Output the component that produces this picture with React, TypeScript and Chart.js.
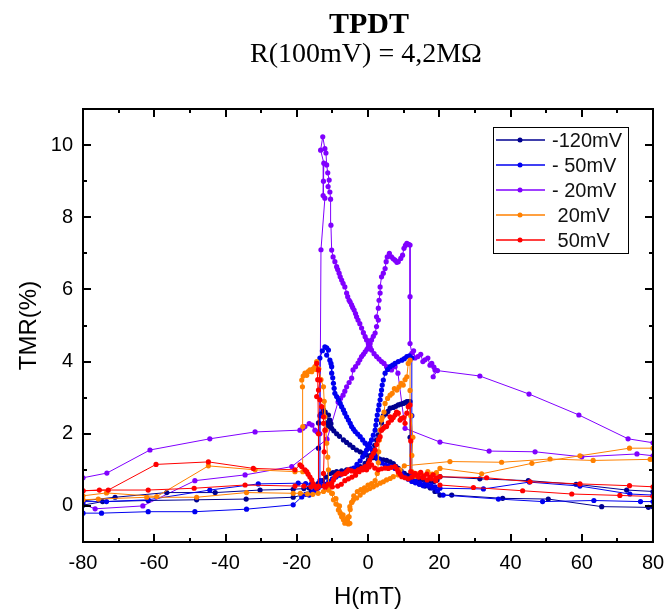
import React, { useEffect, useRef } from 'react';
import { Chart, registerables } from 'chart.js';

Chart.register(...registerables);

type P = [number, number];

// ---- -120mV (two field sweeps) ----
const n120SweepA: P[] = [
  [-80, 0.02], [-74.5, 0.12], [-61.7, 0.15], [-48.1, 0.17], [-34.2, 0.19], [-21, 0.24], [-18.5, 0.3], [-17, 0.33], [-16, 0.38],
  [-15, 0.42], [-14.4, 0.5], [-13.9, 0.62], [-13.9, 1.6], [-13.9, 2.3], [-13.2, 2.55], [-12.5, 2.66], [-12, 2.6], [-11.1, 2.52],
  [-11.6, 2.3], [-11.2, 2.2], [-10.7, 2.38], [-10.4, 2.28], [-10.2, 2.15], [-9.6, 2.08], [-8.8, 2.0], [-8.0, 1.93], [-6.9, 1.83],
  [-6.0, 1.76], [-5.1, 1.69], [-4.2, 1.62], [-3.2, 1.55], [-2.2, 1.5], [-1.3, 1.46], [-0.4, 1.41], [0.6, 1.37], [1.5, 1.34],
  [2.4, 1.32], [3.3, 1.3], [4.3, 1.28], [5.2, 1.26], [6.2, 1.22], [7.1, 1.17], [7.8, 1.1], [8.5, 1.04], [9.3, 0.97], [10.2, 0.9],
  [11.2, 0.85], [12.3, 0.82], [13.2, 0.78], [14.2, 0.76], [15.2, 0.73], [16.3, 0.7], [17.4, 0.7], [18.5, 0.68], [19.4, 0.72],
  [20.2, 0.81], [31.4, 0.75], [45, 0.7], [58.4, 0.6], [72.6, 0.44], [80, 0.4],
];
const n120SweepB: P[] = [
  [80, -0.02], [78.7, -0.04], [65.6, -0.02], [50.6, 0.19], [37.8, 0.21], [23.5, 0.3], [20.2, 0.3], [18.8, 0.4], [17.5, 0.5],
  [16, 0.55], [14.6, 0.6], [13.2, 0.68], [12.2, 0.75], [11.8, 0.85], [11.8, 1.9], [11.8, 2.89], [11.3, 2.89], [10.9, 2.89],
  [10.4, 2.86], [9.9, 2.84], [9.2, 2.82], [8.5, 2.8], [7.8, 2.76], [7.1, 2.73], [6.2, 2.71], [5.6, 2.62], [5.0, 2.55], [4.3, 2.5],
  [3.8, 2.3], [3.4, 2.1], [2.9, 1.97], [2.4, 1.83], [1.9, 1.68], [1.5, 1.55], [0.8, 1.4], [0.1, 1.27], [-0.8, 1.18], [-2.2, 1.09],
  [-3.6, 1.05], [-4.8, 1.02], [-6, 1.0], [-7.4, 0.97], [-8.8, 0.95], [-9.8, 0.92], [-10.7, 0.9], [-11.8, 0.8], [-12.8, 0.7],
  [-14, 0.62], [-15.2, 0.55], [-16.5, 0.5], [-18, 0.48], [-21, 0.46], [-30.3, 0.44], [-42.9, 0.37], [-56.5, 0.37], [-71, 0.24],
  [-80, 0.14],
];

// ---- -50mV ----
const n50SweepA: P[] = [
  [-80, -0.2], [-74.8, -0.2], [-61.7, -0.16], [-48.6, -0.16], [-34.1, -0.09], [-21, 0.03], [-18.6, 0.25], [-17.5, 0.32],
  [-16.5, 0.3], [-15.5, 0.38], [-14.6, 0.42], [-14, 0.5], [-13.5, 0.7], [-13.5, 2.5], [-13.5, 4.1], [-12.8, 4.3], [-12.1, 4.41],
  [-11.6, 4.38], [-11.1, 4.32], [-11.6, 4.18], [-10.7, 4.04], [-10.4, 3.95], [-10.2, 3.86], [-10.2, 3.68], [-9.9, 3.55],
  [-9.7, 3.4], [-9.5, 3.26], [-9.3, 3.12], [-8.8, 3.03], [-8.3, 2.94], [-7.8, 2.84], [-7.4, 2.75], [-6.9, 2.66], [-6.5, 2.57],
  [-6.0, 2.47], [-5.5, 2.38], [-5.0, 2.29], [-4.6, 2.2], [-4.1, 2.13], [-3.6, 2.06], [-2.9, 1.99], [-2.2, 1.92], [-1.5, 1.83],
  [-0.8, 1.74], [-0.1, 1.67], [0.6, 1.6], [1.3, 1.52], [2.0, 1.46], [2.5, 1.35], [2.9, 1.26], [3.8, 1.19], [4.8, 1.14],
  [5.7, 1.11], [6.6, 1.09], [7.6, 1.04], [8.5, 1.0], [9.5, 0.9], [10.4, 0.81], [11.3, 0.74], [12.3, 0.68], [13.3, 0.64],
  [14.4, 0.6], [15.5, 0.56], [16.6, 0.6], [17.7, 0.57], [18.8, 0.53], [20.2, 0.49], [32.4, 0.47], [45.3, 0.66], [59.5, 0.55],
  [73.5, 0.33], [80, 0.3],
];
const n50SweepB: P[] = [
  [80, 0.12], [76.5, 0.12], [63.4, 0.15], [49, 0.12], [36.6, 0.19], [21.1, 0.3], [19.5, 0.42], [18.2, 0.5], [17, 0.55],
  [15.8, 0.6], [14.6, 0.64], [13.4, 0.7], [12.3, 0.85], [12.3, 2.5], [12.3, 4.1], [11.6, 4.16], [10.9, 4.14], [10.2, 4.08],
  [9.5, 4.04], [8.5, 4.0], [7.6, 3.95], [6.9, 3.9], [6.2, 3.86], [5.5, 3.78], [4.8, 3.68], [4.3, 3.49], [4.0, 3.35], [3.8, 3.21],
  [3.6, 3.08], [3.4, 2.94], [3.1, 2.8], [2.9, 2.66], [2.6, 2.52], [2.4, 2.38], [2.2, 2.24], [2.0, 2.1], [1.5, 1.96], [1.0, 1.83],
  [0.5, 1.73], [0.1, 1.64], [-0.4, 1.55], [-0.8, 1.46], [-1.5, 1.36], [-2.2, 1.25], [-3.1, 1.15], [-4.0, 1.05], [-5.0, 1.0],
  [-6, 0.95], [-7, 0.9], [-8, 0.85], [-9, 0.8], [-10, 0.75], [-11, 0.68], [-12, 0.6], [-13, 0.56], [-14, 0.55], [-15, 0.57],
  [-16, 0.6], [-17.5, 0.62], [-19.6, 0.63], [-30.8, 0.61], [-44.4, 0.44], [-61.7, 0.17], [-73.4, 0.12], [-80, 0.12],
];

// ---- -20mV ----
const n20SweepA: P[] = [
  [-80, 0.05], [-76.6, -0.08], [-63.2, 0.0], [-48.6, 0.7], [-34.5, 0.86], [-21.4, 1.09], [-11.5, 1.85], [-8.4, 2.88],
  [-7.7, 2.98], [-7.0, 3.07], [-6.5, 3.18], [-6.0, 3.3], [-5.3, 3.42], [-4.6, 3.54], [-4.2, 3.77], [-3.5, 3.86], [-2.8, 3.96],
  [-2.3, 4.05], [-1.8, 4.14], [-1.3, 4.2], [-0.8, 4.27], [-0.3, 4.34], [0.1, 4.41], [0.6, 4.5], [1.0, 4.6], [1.5, 4.7],
  [2.0, 4.79], [2.4, 4.97], [2.9, 5.15], [2.4, 5.24], [2.9, 5.48], [3.1, 5.7], [3.4, 5.9], [3.4, 6.07], [3.8, 6.35], [4.3, 6.45],
  [4.8, 6.58], [5.1, 6.77], [5.4, 6.9], [6.0, 7.0], [6.6, 6.9], [7.1, 6.85], [7.6, 6.81], [8.1, 6.75], [8.5, 6.77], [9.2, 6.86],
  [9.7, 6.95], [10.1, 7.14], [10.5, 7.22], [10.9, 7.28], [11.4, 7.25], [11.8, 7.23], [11.8, 5.8], [11.8, 4.5], [12.3, 4.23],
  [12.8, 4.3], [13.2, 4.1], [14, 4.14], [14.8, 4.2], [15.4, 4.0], [16, 4.05], [16.8, 4.1], [17.4, 3.9], [17.9, 3.95],
  [18.5, 3.85], [18.8, 3.77], [18.3, 3.58], [19.5, 3.75], [31.4, 3.6], [45.2, 3.1], [59.2, 2.52], [73, 1.86], [80, 1.75],
];
const n20SweepB: P[] = [
  [80, 1.39], [75.5, 1.44], [60, 1.36], [46.9, 1.5], [34, 1.52], [20.2, 1.77], [10.4, 2.15], [8.4, 3.68], [7.6, 3.86],
  [6.6, 3.77], [5.9, 3.8], [5.2, 3.86], [4.5, 3.95], [3.8, 4.0], [3.1, 4.07], [2.4, 4.14], [1.7, 4.22], [1.0, 4.32], [0.6, 4.4],
  [0.1, 4.5], [-0.4, 4.6], [-0.8, 4.69], [-1.3, 4.8], [-1.8, 4.93], [-2.3, 5.05], [-2.8, 5.15], [-3.2, 5.24], [-3.5, 5.33],
  [-3.9, 5.43], [-4.3, 5.5], [-4.6, 5.57], [-5.0, 5.65], [-5.3, 5.7], [-5.7, 5.8], [-6.0, 5.9], [-6.5, 6.07], [-7.0, 6.17],
  [-7.4, 6.26], [-7.8, 6.35], [-8.1, 6.45], [-8.5, 6.55], [-8.8, 6.63], [-9.3, 6.77], [-9.8, 6.9], [-10.2, 7.09], [-10.4, 7.78],
  [-10.5, 8.5], [-10.7, 8.7], [-11.2, 8.85], [-10.9, 9.03], [-11.3, 9.23], [-11.6, 9.45], [-11.8, 9.78], [-12.1, 9.9],
  [-12.7, 10.23], [-13.3, 9.86], [-12.4, 9.5], [-12.5, 9.0], [-12.6, 8.6], [-12.1, 8.53], [-13.2, 7.1], [-13.5, 2.0],
  [-14.3, 2.05], [-14.9, 2.1], [-15.7, 2.24], [-16.5, 2.28], [-17.7, 2.2], [-18.3, 2.15], [-19.1, 2.1], [-31.7, 2.05],
  [-44.4, 1.86], [-61.2, 1.55], [-73.3, 0.91], [-80, 0.78],
];

// ---- 20mV ----
const p20SweepA: P[] = [
  [-80, 0.28], [-73.4, 0.36], [-59.3, 0.26], [-44.8, 1.11], [-31.7, 1.0], [-20.5, 0.95], [-18.3, 0.95], [-18.3, 2.2],
  [-18.4, 3.3], [-18.6, 3.49], [-18.2, 3.6], [-17.7, 3.68], [-17.2, 3.62], [-16.8, 3.72], [-16.3, 3.77], [-15.8, 3.72],
  [-15.4, 3.8], [-14.9, 3.86], [-14.6, 3.78], [-14.4, 4.0], [-13.8, 3.8], [-13.2, 3.5], [-12.5, 3.3], [-12.3, 2.9],
  [-12.1, 2.47], [-11.8, 2.1], [-11.6, 1.74], [-11.3, 1.35], [-11.1, 1.0], [-11.1, 0.44], [-10.7, 0.53], [-10.2, 0.35],
  [-9.7, 0.17], [-9.0, 0.05], [-8.3, -0.11], [-7.8, -0.2], [-7.4, -0.3], [-6.9, -0.38], [-6.5, -0.48], [-6.0, -0.43],
  [-5.5, -0.5], [-5.1, -0.48], [-5.3, -0.3], [-5.1, -0.02], [-4.6, 0.1], [-4.1, 0.17], [-3.2, 0.22], [-2.2, 0.3], [-1.3, 0.38],
  [-0.4, 0.44], [0.5, 0.48], [1.5, 0.53], [2.4, 0.58], [3.4, 0.63], [4.3, 0.67], [5.2, 0.72], [6.2, 0.76], [7.1, 0.81],
  [8.5, 0.86], [9.0, 1.0], [10.2, 1.11], [23, 1.23], [37.5, 1.21], [51.1, 1.3], [63.2, 1.26], [79.2, 1.29], [80, 1.29],
];
const p20SweepB: P[] = [
  [80, 1.6], [73.4, 1.6], [59.5, 1.39], [46, 1.18], [31.9, 0.89], [20.2, 1.04], [19.2, 0.92], [18, 0.88], [16.8, 0.95],
  [15.6, 0.85], [14.4, 0.9], [13.3, 0.82], [12.3, 0.95], [12.3, 1.4], [12.6, 1.9], [12.0, 2.5], [11.8, 3.2], [11.8, 4.04],
  [11.3, 3.95], [10.9, 3.58], [10.4, 3.5], [9.9, 3.35], [9.3, 3.4], [8.7, 3.3], [8.1, 3.21], [7.4, 3.25], [6.8, 3.12],
  [6.2, 3.07], [5.5, 2.98], [4.8, 2.84], [4.5, 2.6], [4.0, 2.45], [3.8, 2.38], [3.4, 2.1], [3.2, 1.83], [3.0, 1.5], [2.9, 1.2],
  [2.6, 0.9], [2.0, 0.7], [1.0, 0.62], [0.0, 0.58], [-1.0, 0.5], [-2.0, 0.45], [-3.0, 0.4], [-4.0, 0.28], [-4.5, 0.1],
  [-5.0, -0.1], [-5.5, -0.3], [-6.0, -0.35], [-7.0, -0.25], [-8.0, 0.0], [-9.0, 0.2], [-10.0, 0.35], [-11.0, 0.45],
  [-12.5, 0.4], [-14, 0.35], [-15.5, 0.32], [-17, 0.33], [-19, 0.35], [-21, 0.35], [-34.1, 0.37], [-48.1, 0.24],
  [-62.1, 0.24], [-75.7, 0.19], [-80, 0.17],
];

// ---- 50mV ----
const p50SweepA: P[] = [
  [-80, 0.42], [-72.9, 0.44], [-59.5, 1.15], [-44.8, 1.22], [-32.2, 1.04], [-20.5, 1.0], [-19.1, 1.14], [-18.6, 1.09],
  [-17.7, 1.0], [-17.2, 0.95], [-16.8, 0.88], [-16.3, 0.8], [-15.8, 0.72], [-15.4, 0.62], [-14.9, 0.55], [-14.4, 0.49],
  [-13.9, 0.55], [-13.9, 2.0], [-14.1, 3.5], [-14.4, 3.95], [-13.9, 3.77], [-13.5, 3.49], [-13.9, 3.21], [-14.4, 3.03],
  [-13.5, 2.94], [-13.0, 2.75], [-12.5, 2.47], [-12.5, 2.29], [-12.1, 2.1], [-12.3, 1.5], [-12.5, 0.9], [-12.3, 0.55],
  [-11.2, 0.6], [-10.2, 0.63], [-9.7, 0.72], [-9.3, 0.81], [-8.8, 0.86], [-8.3, 0.9], [-7.4, 0.88], [-6.5, 0.9], [-6.0, 0.95],
  [-5.5, 1.0], [-4.6, 0.97], [-3.6, 0.95], [-2.7, 1.0], [-1.8, 1.04], [-1.1, 1.02], [-0.4, 1.0], [0.3, 1.08], [1.0, 1.14],
  [1.9, 1.05], [2.9, 1.0], [3.8, 1.03], [4.8, 1.05], [5.7, 1.04], [6.6, 1.07], [7.6, 1.09], [8.1, 1.02], [8.5, 0.95],
  [9.0, 0.88], [9.5, 0.81], [10.4, 0.78], [11.3, 0.75], [12.3, 0.8], [13.2, 0.9], [14.0, 0.85], [14.8, 0.93], [15.6, 0.82],
  [16.5, 0.88], [17.4, 0.8], [18.3, 0.86], [19.2, 0.78], [20.2, 0.81], [33.3, 0.78], [45.5, 0.67], [59.5, 0.61],
  [73.4, 0.56], [80, 0.53],
];
const p50SweepB: P[] = [
  [80, 0.26], [70.7, 0.29], [57.2, 0.33], [43.4, 0.42], [29.6, 0.51], [20.2, 0.58], [19, 0.7], [17.8, 0.75], [16.6, 0.72],
  [15.4, 0.78], [14.2, 0.8], [13, 0.85], [12, 0.95], [12, 1.8], [11.8, 2.8], [11.3, 2.75], [10.9, 2.57], [10.4, 2.29],
  [10, 2.45], [9.5, 2.43], [9.0, 2.38], [8.5, 2.57], [8.0, 2.6], [7.6, 2.52], [7.1, 2.45], [6.6, 2.38], [6.2, 2.47], [5.7, 2.3],
  [5.2, 2.2], [4.8, 2.2], [4.3, 2.15], [3.8, 2.1], [3.4, 1.92], [2.9, 1.83], [2.4, 1.7], [2.0, 1.55], [1.5, 1.46], [1.0, 1.37],
  [0.5, 1.27], [0.1, 1.18], [-0.8, 1.09], [-1.5, 1.0], [-2.5, 0.95], [-3.5, 0.85], [-4.5, 0.8], [-5.5, 0.75], [-6.5, 0.7],
  [-7.5, 0.6], [-8.5, 0.55], [-10, 0.53], [-12, 0.52], [-14, 0.53], [-16, 0.53], [-18, 0.55], [-20.5, 0.55], [-34.5, 0.58],
  [-48.8, 0.49], [-61.7, 0.44], [-75.4, 0.44], [-80, 0.42],
];

const seriesLabels = ['-120mV', '- 50mV', '- 20mV', ' 20mV', ' 50mV'];
const seriesColors = ['#000090', '#0000F0', '#8000FF', '#FF8000', '#FF0000'];
const seriesSweeps: P[][][] = [
  [n120SweepA, n120SweepB],
  [n50SweepA, n50SweepB],
  [n20SweepA, n20SweepB],
  [p20SweepA, p20SweepB],
  [p50SweepA, p50SweepB],
];
const drawOrder = [3, 2, 4, 1, 0];

const xTickValues = [-80, -60, -40, -20, 0, 20, 40, 60, 80];
const xMinorValues = [-70, -50, -30, -10, 10, 30, 50, 70];
const yTickValues = [0, 2, 4, 6, 8, 10];
const yMinorValues = [-1, 1, 3, 5, 7, 9, 11];

const titleText = 'TPDT';
const subtitleText = 'R(100mV) = 4,2MΩ';

function toPoints(sweeps: P[][]) {
  const out: { x: number; y: number | null }[] = [];
  sweeps.forEach((s, i) => {
    if (i > 0) out.push({ x: s[0][0], y: null });
    s.forEach(([x, y]) => out.push({ x, y }));
  });
  return out;
}

const decorPlugin = {
  id: 'decor',
  afterDatasetsDraw(chart: any) {
    const { ctx, chartArea, scales } = chart;
    const { left, right, top, bottom } = chartArea;
    const xs = scales.x;
    const ys = scales.y;
    ctx.save();
    ctx.strokeStyle = '#000';
    ctx.lineWidth = 2;
    ctx.strokeRect(left, top, right - left, bottom - top);
    const seg = (x1: number, y1: number, x2: number, y2: number) => {
      ctx.beginPath();
      ctx.moveTo(x1, y1);
      ctx.lineTo(x2, y2);
      ctx.stroke();
    };
    ctx.lineWidth = 2;
    xTickValues.forEach((v) => {
      const p = Math.round(xs.getPixelForValue(v));
      seg(p, bottom, p, bottom - 8);
      seg(p, top, p, top + 8);
    });
    xMinorValues.forEach((v) => {
      const p = Math.round(xs.getPixelForValue(v));
      seg(p, bottom, p, bottom - 4);
      seg(p, top, p, top + 4);
    });
    yTickValues.forEach((v) => {
      const p = Math.round(ys.getPixelForValue(v));
      seg(left, p, left + 8, p);
      seg(right, p, right - 8, p);
    });
    yMinorValues.forEach((v) => {
      const p = Math.round(ys.getPixelForValue(v));
      seg(left, p, left + 4, p);
      seg(right, p, right - 4, p);
    });
    ctx.restore();
  },
  afterDraw(chart: any) {
    const { ctx, chartArea } = chart;
    ctx.save();
    // titles
    ctx.fillStyle = '#000';
    ctx.textAlign = 'center';
    ctx.textBaseline = 'alphabetic';
    ctx.font = 'bold 30px "Liberation Serif", serif';
    ctx.fillText(titleText, 369, 33);
    ctx.font = '28px "Liberation Serif", serif';
    ctx.fillText(subtitleText, 366, 62);
    // legend
    const bx = chartArea.right - 160;
    const by = chartArea.top + 18;
    const bw = 135;
    const bh = 126;
    ctx.fillStyle = '#fff';
    ctx.fillRect(bx, by, bw, bh);
    ctx.strokeStyle = '#000';
    ctx.lineWidth = 1;
    ctx.strokeRect(bx + 0.5, by + 0.5, bw, bh);
    ctx.font = '20px "Liberation Sans", Arial, sans-serif';
    ctx.textAlign = 'left';
    ctx.textBaseline = 'middle';
    chart.data.datasets.forEach((ds: any, i: number) => {
      const yy = by + 13 + i * 25;
      ctx.strokeStyle = ds.borderColor;
      ctx.lineWidth = 1.5;
      ctx.beginPath();
      ctx.moveTo(bx + 3, yy);
      ctx.lineTo(bx + 52, yy);
      ctx.stroke();
      ctx.fillStyle = ds.borderColor;
      ctx.beginPath();
      ctx.arc(bx + 27, yy, 2.5, 0, Math.PI * 2);
      ctx.fill();
      ctx.fillStyle = '#111';
      ctx.fillText(ds.label, bx + 59, yy + 1);
    });
    ctx.restore();
  },
};

export default function App() {
  const ref = useRef<HTMLCanvasElement | null>(null);
  useEffect(() => {
    if (!ref.current) return;
    const datasets = seriesSweeps.map((sweeps, i) => ({
      label: seriesLabels[i],
      data: toPoints(sweeps),
      borderColor: seriesColors[i],
      backgroundColor: seriesColors[i],
      borderWidth: 1,
      pointRadius: 2.6,
      pointBorderWidth: 0,
      pointHoverRadius: 0,
      spanGaps: false,
      tension: 0,
      order: drawOrder[i],
    }));
    const tickFont = { family: '"Liberation Sans", Arial, sans-serif', size: 20 };
    const titleFont = { family: '"Liberation Sans", Arial, sans-serif', size: 24 };
    const chart = new Chart(ref.current, {
      type: 'line',
      data: { datasets },
      plugins: [decorPlugin],
      options: {
        responsive: false,
        animation: false,
        events: [],
        layout: { padding: { top: 109, right: 14, bottom: 0, left: 0 } },
        plugins: { legend: { display: false }, tooltip: { enabled: false } },
        scales: {
          x: {
            type: 'linear',
            min: -80,
            max: 80,
            grid: { display: false, drawTicks: false },
            border: { display: false },
            ticks: { font: tickFont, color: '#000', padding: 9, maxRotation: 0 },
            afterBuildTicks: (s: any) => {
              s.ticks = xTickValues.map((v) => ({ value: v }));
            },
            afterFit: (s: any) => {
              s.height = 70;
              s.paddingLeft = 0;
              s.paddingRight = 0;
            },
            title: { display: true, text: 'H(mT)', font: titleFont, color: '#000', padding: { top: 0, bottom: 0 } },
          },
          y: {
            type: 'linear',
            min: -1,
            max: 11,
            grid: { display: false, drawTicks: false },
            border: { display: false },
            ticks: { font: tickFont, color: '#000', padding: 10 },
            afterBuildTicks: (s: any) => {
              s.ticks = yTickValues.map((v) => ({ value: v }));
            },
            afterFit: (s: any) => {
              s.width = 83;
              s.paddingTop = 0;
              s.paddingBottom = 0;
            },
            title: { display: true, text: 'TMR(%)', font: titleFont, color: '#000', padding: { top: 15, bottom: 0 } },
          },
        },
      } as any,
    });
    return () => chart.destroy();
  }, []);
  return (
    <div style={{ position: 'absolute', left: 0, top: 0, width: 667, height: 612, background: '#fff' }}>
      <canvas ref={ref} width={667} height={612} />
    </div>
  );
}
